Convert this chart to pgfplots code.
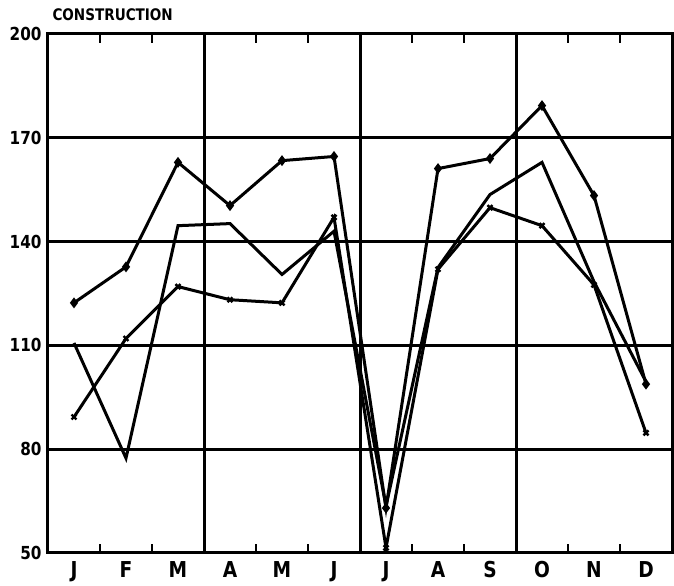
\documentclass[border=0pt]{standalone}
\usepackage{fontspec}
\setmainfont{DejaVu Sans}[FakeStretch=0.85]
\usepackage{pgfplots}
\pgfplotsset{compat=1.18}
\begin{document}
\begin{tikzpicture}
\begin{axis}[
  scale only axis, width=624bp, height=519bp,
  xmin=0, xmax=12, ymin=50, ymax=200,
  axis line style={line width=3bp},
  ytick={50,80,...,200},
  ymajorgrids,
  major grid style={line width=3bp, black},
  xtick={0.5,1.5,...,11.5},
  xticklabels={J,F,M,A,M,J,J,A,S,O,N,D},
  major tick length=0pt,
  extra x ticks={3,6,9},
  extra x tick labels={},
  extra x tick style={grid=major, major grid style={line width=3bp, black}},
  minor xtick={1,2,4,5,7,8,10,11},
  minor tick length=9bp,
  minor tick style={line width=2bp, black},
  tick align=inside,
  /pgf/number format/assume math mode=true,
  yticklabel style={font=\fontsize{18}{18}\selectfont\bfseries, xshift=-3bp},
  xticklabel style={font=\fontsize{22}{22}\selectfont\bfseries, yshift=-5bp},
]
\addplot[black, line width=3bp, mark=diamond*, mark size=3bp] coordinates {
(0.5,122.3) (1.5,132.7) (2.5,162.9) (3.5,150.4) (4.5,163.4) (5.5,164.6)
(6.5,63) (7.5,161.1) (8.5,164) (9.5,179.3) (10.5,153.3) (11.5,98.8)};
\addplot[black, line width=3bp] coordinates {
(0.5,110.7) (1.5,77.4) (2.5,144.6) (3.5,145.2) (4.5,130.5) (5.5,143)
(6.5,63.5) (7.5,132.5) (8.5,153.6) (9.5,162.9) (10.5,128.4) (11.5,99.5)};
\addplot[black, line width=3bp, mark=x, mark size=3.5bp, mark options={line width=2.4bp}] coordinates {
(0.5,89.3) (1.5,112) (2.5,127) (3.5,123.2) (4.5,122.3) (5.5,147)
(6.5,51.5) (7.5,132) (8.5,149.8) (9.5,144.6) (10.5,127.5) (11.5,84.7)};
\end{axis}
\node[anchor=base west, font=\fontsize{16}{16}\selectfont\bfseries] at ([xshift=1bp,yshift=13bp]current axis.north west) {CONSTRUCTION};
\path ([xshift=-48bp,yshift=-31bp]current axis.south west) ([xshift=2bp,yshift=34bp]current axis.north east);
\end{tikzpicture}
\end{document}
